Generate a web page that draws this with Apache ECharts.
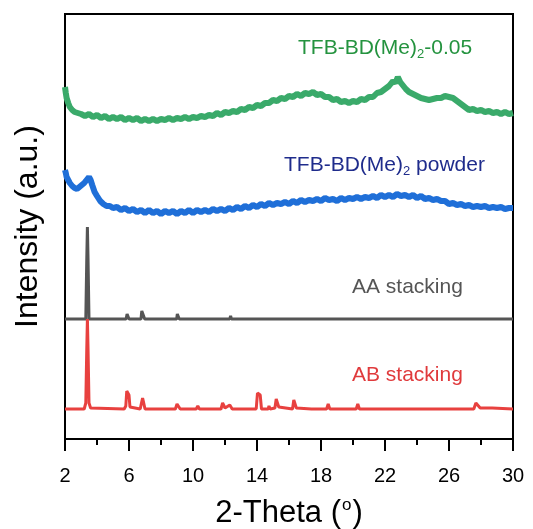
<!DOCTYPE html>
<html><head><meta charset="utf-8">
<script src="https://cdn.jsdelivr.net/npm/echarts@6/dist/echarts.min.js"></script>
<style>html,body{margin:0;padding:0;background:#fff}#c{width:533px;height:529px}</style>
</head><body><div id="c"></div>
<script>
// 2-Theta (deg) / Intensity (a.u., offset traces)
const green005 = [[2.0,352],[2.05,346],[2.1,341],[2.2,336],[2.3,332],[2.45,329],[2.6,327],[2.8,326],[3.0,325],[3.25,323],[3.5,325],[3.75,322],[4.0,324],[4.25,321],[4.5,323],[4.75,320],[5.0,322],[5.25,320],[5.5,322],[5.75,319],[6.0,321],[6.25,319],[6.5,321],[6.75,318],[7.0,320],[7.25,318],[7.5,320],[7.75,318],[8.0,320],[8.25,319],[8.5,321],[8.75,319],[9.0,321],[9.25,320],[9.5,322],[9.75,320],[10.0,322],[10.25,321],[10.5,323],[10.75,322],[11.0,324],[11.25,323],[11.5,326],[11.75,324],[12.0,327],[12.25,326],[12.5,328],[12.75,327],[13.0,330],[13.25,329],[13.5,332],[13.75,331],[14.0,334],[14.25,333],[14.5,336],[14.75,336],[15.0,339],[15.25,338],[15.5,341],[15.75,340],[16.0,343],[16.25,342],[16.5,345],[16.75,343],[17.0,346],[17.25,345],[17.5,347],[17.75,344],[18.0,345],[18.25,342],[18.5,342],[18.75,339],[19.0,340],[19.25,337],[19.5,338],[19.75,336],[20.0,338],[20.25,337],[20.5,340],[20.75,339],[21.0,342],[21.25,342],[21.5,346],[21.75,347],[22.0,350],[22.25,353],[22.5,358],[22.65,356],[22.8,362],[22.95,357],[23.1,354],[23.3,350],[23.5,347],[23.75,345],[24.0,343],[24.25,341],[24.5,340],[24.75,339],[25.0,340],[25.25,341],[25.5,341],[25.75,343],[26.0,342],[26.25,341],[26.5,338],[26.75,335],[27.0,332],[27.25,329],[27.5,330],[27.75,328],[28.0,329],[28.25,327],[28.5,328],[28.75,326],[29.0,327],[29.25,325],[29.5,327],[29.75,325],[30.0,326]];
const bluePowder = [[2.0,269],[2.05,266],[2.1,262],[2.2,259],[2.3,256],[2.45,253],[2.6,251],[2.75,250],[2.9,252],[3.05,254],[3.2,256],[3.35,259],[3.5,262],[3.6,259],[3.7,254],[3.85,247],[4.0,243],[4.2,238],[4.4,235],[4.6,233],[4.8,233],[5.0,231],[5.25,232],[5.5,229],[5.75,231],[6.0,228],[6.25,230],[6.5,227],[6.75,229],[7.0,226],[7.25,229],[7.5,226],[7.75,228],[8.0,225],[8.25,228],[8.5,226],[8.75,228],[9.0,225],[9.25,228],[9.5,226],[9.75,229],[10.0,226],[10.25,229],[10.5,227],[10.75,229],[11.0,227],[11.25,230],[11.5,228],[11.75,230],[12.0,228],[12.25,231],[12.5,229],[12.75,232],[13.0,230],[13.25,233],[13.5,231],[13.75,234],[14.0,232],[14.25,235],[14.5,233],[14.75,236],[15.0,234],[15.25,236],[15.5,235],[15.75,237],[16.0,235],[16.25,238],[16.5,236],[16.75,239],[17.0,237],[17.25,239],[17.5,238],[17.75,240],[18.0,238],[18.25,241],[18.5,239],[18.75,240],[19.0,238],[19.25,241],[19.5,239],[19.75,241],[20.0,240],[20.25,242],[20.5,240],[20.75,242],[21.0,241],[21.25,243],[21.5,241],[21.75,244],[22.0,242],[22.25,244],[22.5,242],[22.75,245],[23.0,243],[23.25,244],[23.5,242],[23.75,244],[24.0,241],[24.25,243],[24.5,240],[24.75,241],[25.0,239],[25.25,240],[25.5,238],[25.75,238],[26.0,235],[26.25,236],[26.5,234],[26.75,235],[27.0,233],[27.25,234],[27.5,232],[27.75,233],[28.0,232],[28.25,233],[28.5,231],[28.75,232],[29.0,231],[29.25,232],[29.5,230],[29.75,231],[30.0,231]];
const aaStacking = [[2,120],[3.3,120],[3.36,180],[3.4,212],[3.44,180],[3.5,120],[5.82,120],[5.88,125],[5.94,126],[6.0,120],[6.75,120],[6.8,128],[6.86,130],[6.92,128],[6.98,120],[8.98,120],[9.02,125],[9.08,126],[9.14,120],[11.85,120],[11.9,122],[11.95,120],[12.3,120],[12.35,123],[12.4,120],[14.85,120],[14.9,122],[14.95,120],[25.35,120],[25.42,122],[25.5,120],[26.15,120],[26.22,121],[26.3,120],[26.95,120],[27.02,121],[27.1,120],[30,120]];
const abStacking = [[2,30],[3.2,30],[3.3,36],[3.36,90],[3.4,120],[3.44,90],[3.5,36],[3.6,31],[5.7,30],[5.8,33],[5.86,48],[5.94,50],[6.0,44],[6.06,32],[6.15,30],[6.7,30],[6.78,36],[6.85,41],[6.92,36],[7.0,30],[8.9,30],[9.0,35],[9.05,37],[9.1,35],[9.2,30],[10.2,30],[10.3,33],[10.4,30],[11.75,30],[11.85,36],[11.92,37],[12.0,31],[12.1,31],[12.3,34],[12.45,30],[13.95,30],[14.03,46],[14.12,48],[14.2,44],[14.28,30],[14.7,30],[14.75,33],[14.82,30],[15.12,31],[15.2,40],[15.28,41],[15.36,32],[16.22,30],[16.3,39],[16.38,40],[16.46,31],[17.4,30],[17.5,32],[17.6,30],[18.35,30],[18.45,35],[18.55,30],[19.3,30],[19.4,31],[19.5,30],[20.2,30],[20.3,35],[20.4,30],[24.5,30],[24.6,32],[24.7,30],[25.6,30],[25.7,31],[25.8,30],[27.55,30],[27.68,36],[27.8,34],[27.95,31],[28.5,31],[28.6,33],[28.7,31],[30,30]];
const xTicks = [2,6,10,14,18,22,26,30];

const FF = 'Liberation Sans, Arial, sans-serif';
const chart = echarts.init(document.getElementById('c'));
function lbl(text, left, top, color){
  return {text: text, left: left, top: top, padding: 0,
    textStyle: {color: color, fontSize: 21, fontFamily: FF, fontWeight: 'normal',
      rich: {s: {fontSize: 13, color: color, fontFamily: FF, padding: [12,0,0,0]}}}};
}
chart.setOption({
  animation: false,
  title: [
    lbl('TFB-BD(Me){s|2}-0.05', 298, 36, '#24933f'),
    lbl('TFB-BD(Me){s|2} powder', 284, 153, '#1f2c8c'),
    lbl('AA stacking', 352, 277, '#555555'),
    lbl('AB stacking', 352, 365, '#e03a3c')
  ],
  grid: {left: 65, right: 20, top: 14, bottom: 90, outerBoundsMode: 'none', containLabel: false,
    show: true, borderColor: '#000', borderWidth: 2, backgroundColor: 'transparent'},
  xAxis: {type: 'value', min: 2, max: 30, interval: 4,
    name: '2-Theta ({sup|o})', nameLocation: 'middle', nameGap: 58,
    nameTextStyle: {fontSize: 31, fontFamily: FF, color: '#000',
      rich: {sup: {fontSize: 17, fontFamily: FF, color: '#000', padding: [0,1,16,1]}}},
    axisLine: {show: true, lineStyle: {color: '#000', width: 2}},
    axisTick: {show: true, inside: false, length: 12, lineStyle: {color: '#000', width: 2}},
    minorTick: {show: true, splitNumber: 2, length: 6, lineStyle: {color: '#000', width: 2}},
    axisLabel: {fontSize: 20, fontFamily: FF, color: '#000', margin: 27,
      formatter: v => xTicks.includes(v) ? String(v) : ''},
    splitLine: {show: false}},
  yAxis: {type: 'value', min: 0, max: 425,
    name: 'Intensity (a.u.)', nameLocation: 'middle', nameRotate: 90, nameGap: 21,
    nameTextStyle: {fontSize: 32, fontFamily: FF, color: '#000'},
    axisLine: {show: true, lineStyle: {color: '#000', width: 2}},
    axisTick: {show: false}, axisLabel: {show: false}, splitLine: {show: false}},
  series: [
    {type: 'line', data: aaStacking, showSymbol: false, lineStyle: {color: '#555555', width: 3}, z: 2},
    {type: 'line', data: abStacking, showSymbol: false, lineStyle: {color: '#e8413f', width: 3}, z: 3},
    {type: 'line', data: bluePowder, showSymbol: false, lineStyle: {color: '#1f6fd8', width: 6}, z: 4},
    {type: 'line', data: green005, showSymbol: false, lineStyle: {color: '#3aaa6a', width: 6}, z: 4}
  ]
});
</script></body></html>
